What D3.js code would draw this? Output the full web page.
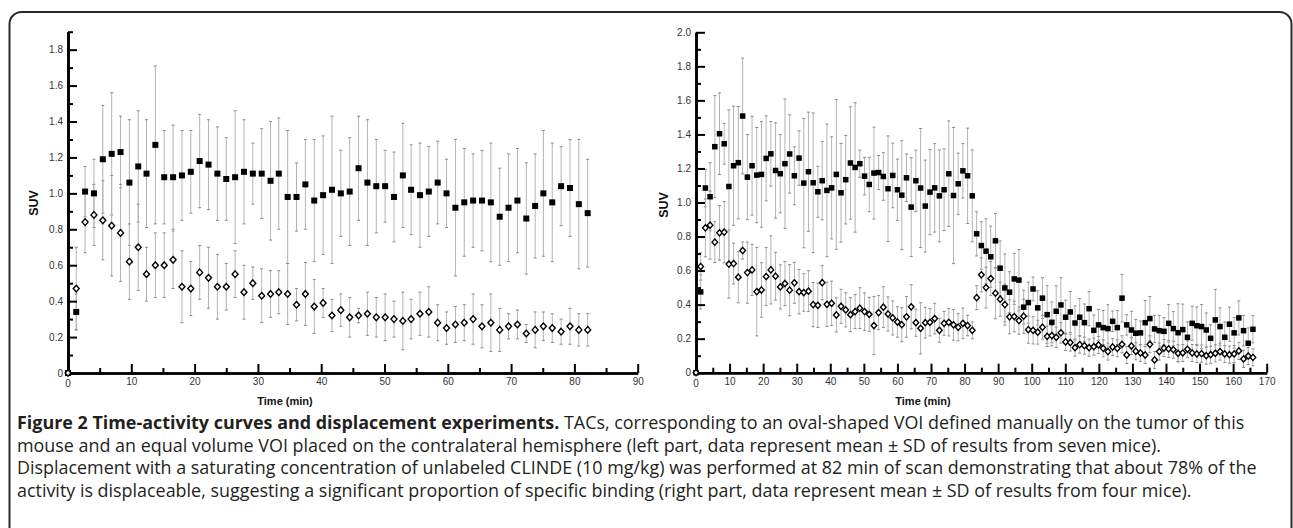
<!DOCTYPE html>
<html><head><meta charset="utf-8">
<script src="https://cdn.jsdelivr.net/npm/d3@7"></script>
<style>body{margin:0;background:#fff}</style>
</head><body>
<svg id="fig" width="1293" height="528" xmlns="http://www.w3.org/2000/svg"></svg>
<script>
// ---------- LEFT PANEL DATA (seven mice) ----------
const leftTimes = [0,1.3,2.7,4.1,5.5,6.9,8.3,9.7,11.1,12.4,13.8,15.2,16.6,18.0,19.4,20.8,22.2,23.6,25.0,26.4,27.8,29.2,30.6,32.0,33.3,34.7,36.1,37.5,38.9,40.3,41.7,43.1,44.5,45.9,47.3,48.7,50.1,51.5,52.9,54.2,55.6,57.0,58.4,59.8,61.2,62.6,64.0,65.4,66.8,68.2,69.6,71.0,72.4,73.8,75.1,76.5,77.9,79.3,80.7,82.1];
const leftTumor = [0,0.34,1.01,1.00,1.19,1.22,1.23,1.06,1.15,1.11,1.27,1.09,1.09,1.10,1.12,1.18,1.16,1.11,1.08,1.09,1.12,1.11,1.11,1.07,1.11,0.98,0.98,1.05,0.96,0.99,1.02,1.00,1.01,1.14,1.06,1.04,1.04,0.98,1.10,1.02,0.99,1.01,1.06,1.00,0.92,0.95,0.96,0.96,0.95,0.87,0.92,0.96,0.86,0.93,1.00,0.95,1.04,1.03,0.94,0.89];
const leftTumorSD = [0,0.10,0.14,0.19,0.30,0.34,0.20,0.35,0.31,0.30,0.44,0.26,0.29,0.25,0.23,0.26,0.25,0.26,0.23,0.37,0.29,0.17,0.25,0.33,0.31,0.37,0.19,0.25,0.34,0.33,0.41,0.24,0.30,0.29,0.35,0.26,0.20,0.25,0.29,0.25,0.29,0.25,0.23,0.19,0.38,0.30,0.26,0.28,0.33,0.27,0.30,0.29,0.31,0.29,0.35,0.33,0.22,0.27,0.36,0.30];
const leftContra = [0,0.47,0.84,0.88,0.85,0.82,0.78,0.62,0.70,0.55,0.60,0.60,0.63,0.48,0.47,0.56,0.53,0.48,0.48,0.55,0.45,0.50,0.43,0.44,0.45,0.44,0.38,0.44,0.37,0.39,0.32,0.35,0.31,0.32,0.33,0.31,0.31,0.30,0.29,0.30,0.33,0.34,0.28,0.25,0.27,0.28,0.30,0.26,0.28,0.24,0.26,0.27,0.22,0.24,0.26,0.25,0.23,0.26,0.24,0.24];
const leftContraSD = [0,0.23,0.17,0.17,0.22,0.28,0.27,0.21,0.24,0.15,0.18,0.18,0.16,0.20,0.15,0.15,0.17,0.18,0.13,0.13,0.15,0.09,0.15,0.13,0.12,0.17,0.09,0.175,0.15,0.08,0.09,0.09,0.11,0.04,0.12,0.11,0.13,0.10,0.16,0.11,0.12,0.14,0.10,0.09,0.10,0.10,0.14,0.12,0.16,0.12,0.07,0.08,0.05,0.10,0.08,0.08,0.07,0.10,0.09,0.09];

// ---------- RIGHT PANEL DATA (four mice, displacement at 82 min) ----------
const rightTimes = [0,1.4,2.8,4.2,5.6,7.0,8.4,9.8,11.2,12.6,13.9,15.3,16.7,18.1,19.5,20.9,22.3,23.7,25.1,26.5,27.9,29.3,30.7,32.1,33.5,34.9,36.3,37.6,39.0,40.4,41.8,43.2,44.6,46.0,47.4,48.8,50.2,51.6,53.0,54.4,55.8,57.2,58.6,60.0,61.3,62.7,64.1,65.5,66.9,68.3,69.7,71.1,72.5,73.9,75.3,76.7,78.1,79.5,80.9,82.3,83.6,85.0,86.4,87.8,89.2,90.6,92.0,93.4,94.8,96.2,97.6,99.0,100.4,101.8,103.2,104.6,106.0,107.3,108.7,110.1,111.5,112.9,114.3,115.7,117.1,118.5,119.9,121.3,122.7,124.1,125.5,126.9,128.3,129.7,131.0,132.4,133.8,135.2,136.6,138.0,139.4,140.8,142.2,143.6,145.0,146.4,147.8,149.2,150.6,152.0,153.3,154.7,156.1,157.5,158.9,160.3,161.7,163.1,164.5,165.9];
const rightTumor = [0,0.475,1.085,1.034,1.328,1.404,1.345,1.094,1.216,1.234,1.508,1.149,1.216,1.161,1.165,1.259,1.286,1.188,1.169,1.228,1.285,1.157,1.261,1.114,1.181,1.116,1.063,1.128,1.071,1.086,1.165,1.057,1.134,1.232,1.206,1.228,1.155,1.106,1.173,1.176,1.153,1.081,1.159,1.075,1.043,1.145,0.973,1.128,1.085,0.979,1.061,1.086,1.039,1.075,1.169,1.041,1.110,1.186,1.157,1.039,0.816,0.747,0.714,0.681,0.775,0.614,0.498,0.473,0.551,0.544,0.385,0.412,0.492,0.381,0.438,0.341,0.296,0.361,0.398,0.326,0.357,0.292,0.326,0.294,0.376,0.249,0.281,0.265,0.259,0.302,0.265,0.438,0.281,0.251,0.232,0.234,0.294,0.318,0.257,0.247,0.243,0.290,0.259,0.235,0.253,0.208,0.290,0.276,0.271,0.251,0.202,0.310,0.271,0.208,0.285,0.234,0.322,0.247,0.173,0.255];
const rightTumorSD = [0,0.10,0.11,0.20,0.30,0.24,0.12,0.45,0.35,0.33,0.34,0.25,0.29,0.28,0.31,0.25,0.19,0.28,0.23,0.38,0.23,0.17,0.16,0.38,0.35,0.41,0.15,0.23,0.39,0.30,0.44,0.29,0.26,0.33,0.38,0.08,0.11,0.16,0.27,0.10,0.14,0.31,0.19,0.18,0.32,0.14,0.29,0.18,0.35,0.27,0.25,0.26,0.27,0.24,0.31,0.40,0.18,0.16,0.28,0.27,0.13,0.14,0.19,0.18,0.16,0.16,0.20,0.12,0.15,0.18,0.10,0.12,0.07,0.10,0.12,0.17,0.12,0.15,0.16,0.10,0.12,0.10,0.11,0.11,0.10,0.09,0.09,0.10,0.14,0.06,0.10,0.14,0.06,0.11,0.08,0.07,0.13,0.13,0.08,0.09,0.08,0.11,0.10,0.17,0.15,0.09,0.10,0.11,0.13,0.10,0.08,0.18,0.11,0.09,0.10,0.09,0.10,0.09,0.09,0.08];
const rightContra = [0,0.624,0.851,0.867,0.767,0.822,0.826,0.638,0.641,0.561,0.718,0.588,0.604,0.476,0.486,0.565,0.604,0.567,0.504,0.524,0.485,0.528,0.476,0.471,0.479,0.400,0.396,0.529,0.402,0.408,0.339,0.390,0.369,0.341,0.359,0.379,0.359,0.343,0.277,0.353,0.385,0.345,0.322,0.298,0.282,0.328,0.387,0.294,0.261,0.294,0.296,0.318,0.249,0.290,0.296,0.281,0.267,0.290,0.277,0.249,0.441,0.575,0.500,0.553,0.467,0.432,0.400,0.328,0.330,0.306,0.332,0.253,0.249,0.238,0.267,0.214,0.218,0.208,0.234,0.181,0.177,0.147,0.165,0.159,0.147,0.153,0.163,0.143,0.124,0.151,0.143,0.167,0.104,0.157,0.126,0.116,0.104,0.167,0.075,0.124,0.145,0.140,0.135,0.114,0.116,0.138,0.116,0.110,0.112,0.100,0.106,0.114,0.124,0.110,0.106,0.110,0.128,0.081,0.098,0.090];
const rightContraSD = [0,0.08,0.17,0.20,0.12,0.16,0.18,0.20,0.12,0.15,0.05,0.18,0.15,0.26,0.16,0.17,0.20,0.14,0.13,0.13,0.15,0.12,0.13,0.11,0.12,0.13,0.13,0.10,0.13,0.13,0.10,0.10,0.10,0.10,0.10,0.12,0.11,0.10,0.17,0.10,0.12,0.10,0.10,0.09,0.10,0.12,0.13,0.08,0.15,0.09,0.08,0.09,0.07,0.07,0.08,0.09,0.08,0.09,0.06,0.05,0.07,0.10,0.12,0.10,0.15,0.10,0.12,0.10,0.09,0.08,0.10,0.08,0.08,0.07,0.07,0.06,0.06,0.06,0.06,0.05,0.05,0.05,0.05,0.05,0.05,0.05,0.05,0.05,0.05,0.05,0.05,0.05,0.05,0.05,0.05,0.05,0.05,0.05,0.05,0.05,0.05,0.05,0.05,0.05,0.05,0.05,0.05,0.05,0.05,0.05,0.05,0.05,0.05,0.05,0.05,0.05,0.05,0.05,0.05,0.05];

// ---------- TICKS AND TEXT ----------
const leftXTicks = [0,10,20,30,40,50,60,70,80,90];
const leftXMinor = [5,15,25,35,45,55,65,75,85];
const leftYTicks = [0,0.2,0.4,0.6,0.8,1.0,1.2,1.4,1.6,1.8];
const leftYMinor = [0.1,0.3,0.5,0.7,0.9,1.1,1.3,1.5,1.7,1.9];
const rightXTicks = [0,10,20,30,40,50,60,70,80,90,100,110,120,130,140,150,160,170];
const rightXMinor = [5,15,25,35,45,55,65,75,85,95,105,115,125,135,145,155,165];
const rightYTicks = [0,0.2,0.4,0.6,0.8,1.0,1.2,1.4,1.6,1.8,2.0];
const rightYMinor = [0.1,0.3,0.5,0.7,0.9,1.1,1.3,1.5,1.7,1.9];
const yTitle = "SUV";
const xTitle = "Time (min)";
const captionBold = "Figure 2 Time-activity curves and displacement experiments.";
const captionLines = [
  " TACs, corresponding to an oval-shaped VOI defined manually on the tumor of this",
  "mouse and an equal volume VOI placed on the contralateral hemisphere (left part, data represent mean ± SD of results from seven mice).",
  "Displacement with a saturating concentration of unlabeled CLINDE (10 mg/kg) was performed at 82 min of scan demonstrating that about 78% of the",
  "activity is displaceable, suggesting a significant proportion of specific binding (right part, data represent mean ± SD of results from four mice)."
];

const svg = d3.select("#fig");
const FONT = "'Liberation Sans', Arial, Helvetica, sans-serif";

// frame
svg.append("rect").attr("x",9.5).attr("y",12).attr("width",1282).attr("height",620)
  .attr("rx",12).attr("fill","none").attr("stroke","#2a2a2a").attr("stroke-width",2);

function panel(cfg){
  const x = d3.scaleLinear().domain([0,cfg.xMax]).range([cfg.x0,cfg.x1]);
  const y = d3.scaleLinear().domain([0,cfg.yMax]).range([cfg.y0,cfg.y1]);
  const g = svg.append("g");

  const series = [
    {v:cfg.tumor, sd:cfg.tumorSD},
    {v:cfg.contra, sd:cfg.contraSD}
  ];
  // error bars
  const eb = g.append("g");
  series.forEach(s=>{
    cfg.times.forEach((t,i)=>{
      if(!s.sd[i]) return;
      const lo = Math.max(0, s.v[i]-s.sd[i]), hi = s.v[i]+s.sd[i];
      eb.append("line").attr("x1",x(t)).attr("x2",x(t)).attr("y1",y(lo)).attr("y2",y(hi))
        .attr("stroke","#b3b3b3").attr("stroke-width",1);
      [lo,hi].forEach(e=>{
        eb.append("line").attr("x1",x(t)-1.5).attr("x2",x(t)+1.5).attr("y1",y(e)).attr("y2",y(e))
          .attr("stroke","#8a8a8a").attr("stroke-width",1);
      });
    });
  });

  // axes
  const yMaj = d3.axisLeft(y).tickValues(cfg.yTicks).tickSize(-9).tickSizeOuter(0).tickPadding(5)
      .tickFormat(d=> d===0 ? "0" : d3.format(".1f")(d));
  const yMin = d3.axisLeft(y).tickValues(cfg.yMinor).tickSize(-5).tickSizeOuter(0).tickFormat("");
  const xMaj = d3.axisBottom(x).tickValues(cfg.xTicks).tickSize(-9).tickSizeOuter(0).tickPadding(5)
      .tickFormat(d=> d===0 ? "" : d3.format("d")(d));
  const xMin = d3.axisBottom(x).tickValues(cfg.xMinor).tickSize(-5).tickSizeOuter(0).tickFormat("");
  const ax = [
    g.append("g").attr("transform",`translate(${cfg.x0},0)`).call(yMin),
    g.append("g").attr("transform",`translate(${cfg.x0},0)`).call(yMaj),
    g.append("g").attr("transform",`translate(0,${cfg.y0})`).call(xMin),
    g.append("g").attr("transform",`translate(0,${cfg.y0})`).call(xMaj)
  ];
  ax.forEach(a=>{
    a.selectAll("path.domain").attr("stroke","#000").attr("stroke-width",2.6);
    a.selectAll(".tick line").attr("stroke","#000").attr("stroke-width",2);
    a.selectAll("text").attr("font-family",FONT).attr("font-size",10).attr("fill","#333");
  });
  // x-axis "0" label
  g.append("text").attr("x",x(0)).attr("y",cfg.y0+14).attr("text-anchor","middle")
    .attr("font-family",FONT).attr("font-size",10).attr("fill","#333").text("0");

  // markers: tumor (filled squares)
  const sq = cfg.sq;
  g.append("g").selectAll("rect").data(cfg.times).join("rect")
    .attr("x",(t)=>x(t)-sq/2).attr("y",(t,i)=>y(cfg.tumor[i])-sq/2)
    .attr("width",sq).attr("height",sq).attr("fill","#000");
  // contralateral (open diamonds)
  const dh = cfg.dm;
  g.append("g").selectAll("path").data(cfg.times).join("path")
    .attr("d",(t,i)=>{const cx=x(t), cy=y(cfg.contra[i]);
      return `M${cx},${cy-dh}L${cx+dh*0.9},${cy}L${cx},${cy+dh}L${cx-dh*0.9},${cy}Z`;})
    .attr("fill","#fff").attr("stroke","#000").attr("stroke-width",1.4);

  // titles
  g.append("text").attr("transform",`translate(${cfg.yTitleX},${cfg.yTitleY}) rotate(-90)`)
    .attr("text-anchor","middle").attr("font-family",FONT).attr("font-weight","bold")
    .attr("font-size",12.5).attr("fill","#111").text(yTitle);
  g.append("text").attr("x",cfg.xTitleX).attr("y",405).attr("text-anchor","middle")
    .attr("font-family",FONT).attr("font-weight","bold").attr("font-size",11).attr("fill","#111").text(xTitle);
}

panel({x0:68,x1:637.7,y0:373,y1:31.7,xMax:90,yMax:1.9,
  times:leftTimes,tumor:leftTumor,tumorSD:leftTumorSD,contra:leftContra,contraSD:leftContraSD,
  xTicks:leftXTicks,xMinor:leftXMinor,yTicks:leftYTicks,yMinor:leftYMinor,
  sq:6,dm:3.3,yTitleX:38,yTitleY:203,xTitleX:285});
panel({x0:696,x1:1266.7,y0:372.7,y1:32.3,xMax:170,yMax:2.0,
  times:rightTimes,tumor:rightTumor,tumorSD:rightTumorSD,contra:rightContra,contraSD:rightContraSD,
  xTicks:rightXTicks,xMinor:rightXMinor,yTicks:rightYTicks,yMinor:rightYMinor,
  sq:5.5,dm:3.1,yTitleX:668,yTitleY:205,xTitleX:923});

// caption
const CAPF = "'Open Sans', 'Noto Sans', sans-serif";
const cap = svg.append("g").attr("font-family",CAPF).attr("fill","#231f20");
const baselines = [429,451.5,474,496.5];
// calibrate font size on line 3 (target width ~1240px)
const probe = cap.append("text").attr("font-size",16).text(captionLines[2]);
const w16 = probe.node().getComputedTextLength();
probe.remove();
const fs = Math.max(12, Math.min(18, 16*1240/w16));
const t1 = cap.append("text").attr("x",17).attr("y",baselines[0]).attr("font-size",fs);
t1.append("tspan").attr("font-weight","bold").text(captionBold);
t1.append("tspan").text(captionLines[0]);
for(let i=1;i<4;i++){
  cap.append("text").attr("x",17).attr("y",baselines[i]).attr("font-size",fs).text(captionLines[i]);
}
</script>
</body></html>
